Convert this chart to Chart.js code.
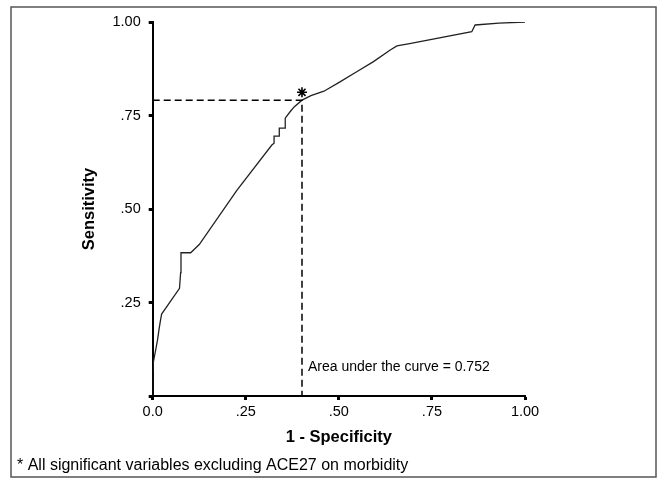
<!DOCTYPE html>
<html>
<head>
<meta charset="utf-8">
<script src="https://cdn.jsdelivr.net/npm/chart.js@4"></script>
<style>
  html, body { margin: 0; padding: 0; background: #fff; }
  #wrap { width: 659px; height: 479px; }
</style>
</head>
<body>
<div id="wrap"><canvas id="rocChart" width="659" height="479"></canvas></div>
<script>
// ROC curve: 1 - specificity (x) and sensitivity (y)
const fpr = [0, 0, 0.002, 0.008, 0.013, 0.017, 0.021, 0.024, 0.072, 0.075, 0.076, 0.102,
  0.125, 0.226, 0.320, 0.326, 0.326, 0.340, 0.340, 0.356, 0.356, 0.369, 0.380, 0.401,
  0.425, 0.460, 0.503, 0.548, 0.593, 0.638, 0.656, 0.690, 0.857, 0.866, 0.930, 1.000];
const tpr = [0, 0.061, 0.092, 0.123, 0.150, 0.178, 0.203, 0.219, 0.288, 0.330, 0.383, 0.383,
  0.405, 0.550, 0.671, 0.676, 0.695, 0.695, 0.716, 0.716, 0.743, 0.760, 0.773, 0.791,
  0.803, 0.815, 0.840, 0.867, 0.894, 0.925, 0.936, 0.942, 0.974, 0.992, 0.997, 1.000];

// cut point marked with the asterisk
const cutX = 0.401;
const cutY = 0.791;
const starY = 0.812;

const xTickLabels = ['0.0', '.25', '.50', '.75', '1.00'];
const yTickLabels = ['', '.25', '.50', '.75', '1.00'];

const xTitle = '1 - Specificity';
const yTitle = 'Sensitivity';
const aucText = 'Area under the curve = 0.752';
const footnote = '* All significant variables excluding ACE27 on morbidity';

const FONT = "'Liberation Sans', Arial, sans-serif";

const frameAndText = {
  id: 'frameAndText',
  beforeDraw(chart) {
    const ctx = chart.ctx;
    ctx.save();
    ctx.fillStyle = '#fff';
    ctx.fillRect(0, 0, chart.width, chart.height);
    ctx.restore();
  },
  afterDraw(chart) {
    const ctx = chart.ctx;
    const xs = chart.scales.x, ys = chart.scales.y;
    ctx.save();
    // outer frame
    ctx.strokeStyle = '#555';
    ctx.lineWidth = 1.5;
    ctx.strokeRect(11, 7, 645, 470);
    // AUC note next to the cut line
    ctx.fillStyle = '#000';
    ctx.font = '14px ' + FONT;
    ctx.textBaseline = 'middle';
    ctx.textAlign = 'left';
    ctx.fillText(aucText, xs.getPixelForValue(cutX) + 6, ys.getPixelForValue(0.077));
    ctx.restore();
  }
};

const ctx = document.getElementById('rocChart').getContext('2d');

new Chart(ctx, {
  type: 'scatter',
  data: {
    datasets: [
      {
        label: 'ROC',
        data: fpr.map((x, i) => ({ x: x, y: tpr[i] })),
        showLine: true,
        borderColor: '#222',
        borderWidth: 1.3,
        pointRadius: 0,
        tension: 0,
        order: 2
      },
      {
        label: 'cut',
        data: [{ x: 0, y: cutY }, { x: cutX, y: cutY }, { x: cutX, y: 0 }],
        showLine: true,
        borderColor: '#000',
        borderWidth: 1.5,
        borderDash: [7, 4],
        pointRadius: 0,
        order: 1
      },
      {
        label: 'star',
        data: [{ x: cutX, y: starY }],
        pointStyle: 'star',
        pointRadius: 5,
        borderColor: '#000',
        borderWidth: 1.6,
        backgroundColor: '#000'
      }
    ]
  },
  options: {
    responsive: false,
    animation: false,
    layout: { padding: { left: 17, top: 22, right: 134, bottom: 3.4 } },
    plugins: {
      legend: { display: false },
      tooltip: { enabled: false },
      title: {
        display: true,
        text: footnote,
        position: 'bottom',
        align: 'start',
        color: '#000',
        font: { family: FONT, size: 16, weight: 'normal' },
        padding: { top: 0, bottom: 0 }
      }
    },
    scales: {
      x: {
        type: 'linear',
        min: 0,
        max: 1,
        afterFit(scale) { scale.height = 60.4; },
        border: { display: true, color: '#000', width: 2 },
        grid: { display: true, drawOnChartArea: false, drawTicks: true, tickLength: 4, tickWidth: 3, tickColor: '#000' },
        ticks: {
          stepSize: 0.25,
          padding: 3,
          color: '#000',
          maxRotation: 0,
          font: { family: FONT, size: 14.5 },
          callback: (v, i) => xTickLabels[i]
        },
        title: {
          display: true,
          text: xTitle,
          color: '#000',
          font: { family: FONT, size: 16.5, weight: 'bold' },
          padding: { top: 0, bottom: 9.5 }
        }
      },
      y: {
        type: 'linear',
        min: 0,
        max: 1,
        afterFit(scale) { scale.width = 135.7; },
        border: { display: true, color: '#000', width: 2 },
        grid: { display: true, drawOnChartArea: false, drawTicks: true, tickLength: 4, tickWidth: 3, tickColor: '#000' },
        ticks: {
          stepSize: 0.25,
          padding: 8,
          color: '#000',
          font: { family: FONT, size: 14.5 },
          callback: (v, i) => yTickLabels[i]
        },
        title: {
          display: true,
          text: yTitle,
          color: '#000',
          font: { family: FONT, size: 16.5, weight: 'bold' },
          padding: { top: 63, bottom: 0 }
        }
      }
    }
  },
  plugins: [frameAndText]
});
</script>
</body>
</html>
